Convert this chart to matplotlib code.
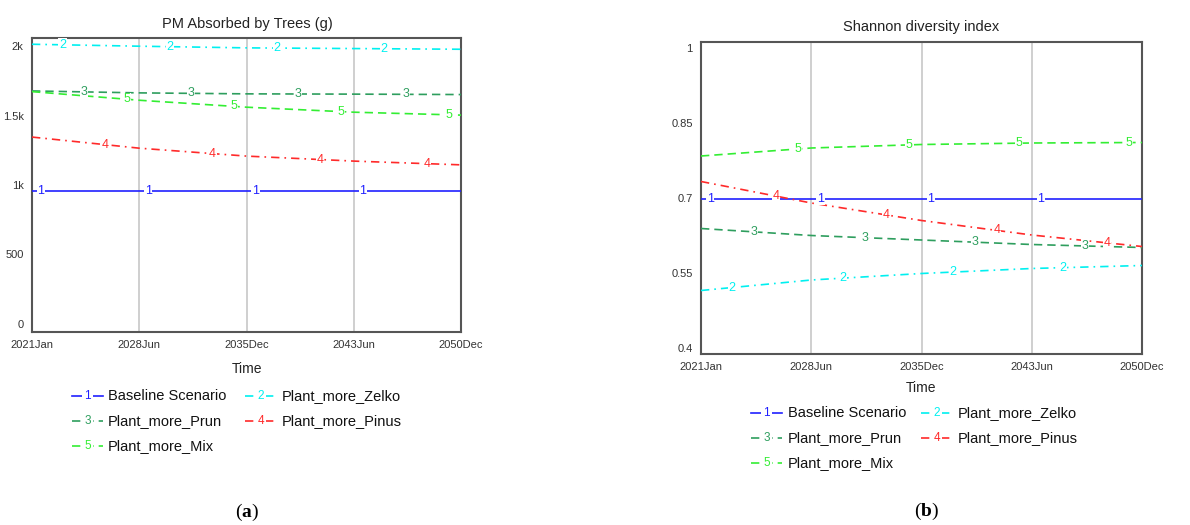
import numpy as np
import matplotlib
matplotlib.use("Agg")
import matplotlib.pyplot as plt
from matplotlib.lines import Line2D

plt.rcParams['font.family'] = ['Liberation Sans', 'DejaVu Sans']
plt.rcParams['mathtext.fontset'] = 'custom'
plt.rcParams['mathtext.bf'] = 'Liberation Serif:bold'
plt.rcParams['mathtext.rm'] = 'Liberation Serif'

# time axis in months from 2021Jan
months = [0, 90, 180, 270, 360]
tick_labels = ["2021Jan", "2028Jun", "2035Dec", "2043Jun", "2050Dec"]

names = ["Baseline Scenario", "Plant_more_Zelko", "Plant_more_Prun",
         "Plant_more_Pinus", "Plant_more_Mix"]
colors = ["#2020ff", "#00f0f0", "#2e9e5e", "#ff2a2a", "#33ee33"]
styles = ["-", (0, (5, 3, 1, 3)), (0, (5, 3)), (0, (5, 3, 1, 3)), (0, (5, 3))]

# (a) PM absorbed by trees (g)
pm_base = [956, 956, 956, 956, 956]
pm_zelko = [2013, 1999, 1987, 1982, 1977]
pm_prun = [1677, 1663, 1656, 1654, 1651]
pm_pinus = [1345, 1265, 1208, 1172, 1145]
pm_mix = [1672, 1610, 1560, 1524, 1503]

# (b) Shannon diversity index
sh_base = [0.699, 0.699, 0.699, 0.699, 0.699]
sh_zelko = [0.515, 0.536, 0.549, 0.559, 0.565]
sh_prun = [0.639, 0.625, 0.616, 0.607, 0.601]
sh_pinus = [0.733, 0.690, 0.655, 0.626, 0.603]
sh_mix = [0.784, 0.800, 0.807, 0.810, 0.811]

W, H = 1190, 525
fig = plt.figure(figsize=(W / 100, H / 100), dpi=100)


def px(x, y):
    return x / W, 1 - y / H


def panel(l, t, r, b, series, ylim, yticks, ylabels, title, title_xy, time_y,
          leg, cap, cap_xy):
    ax = fig.add_axes([l / W, 1 - b / H, (r - l) / W, (b - t) / H])
    for i, ys in enumerate(series):
        ax.plot(months, ys, color=colors[i], ls=styles[i], lw=1.2, zorder=3)
        # numbered markers along each line
        for j in range(4):
            xm = 7.5 + 18 * i + 90 * j
            ax.text(xm, np.interp(xm, months, ys), str(i + 1), color=colors[i],
                    fontsize=9, ha='center', va='center', zorder=4,
                    bbox=dict(boxstyle='square,pad=0.05', fc='white', ec='none'))
    ax.set_xlim(0, 360)
    ax.set_ylim(*ylim)
    ax.set_xticks(months)
    ax.set_xticklabels(tick_labels, fontsize=8, color='#333333')
    ax.set_yticks(yticks)
    ax.set_yticklabels(ylabels, fontsize=8, color='#333333')
    ax.tick_params(length=0, pad=6)
    ax.grid(axis='x', color='#cccccc', lw=1.3)
    for s in ax.spines.values():
        s.set_color('#555555')
        s.set_linewidth(1.5)
    cx = (l + r) / 2
    fig.text(*px(*title_xy), title, fontsize=10.5, ha='center', va='center',
             color='#222222')
    fig.text(*px(cx, time_y), "Time", fontsize=10, ha='center', va='center',
             color='#222222')
    # legend drawn like the Vensim style "-1-"
    c1, t1, c2, t2, rows = leg
    slots = [(c1, t1, rows[0]), (c2, t2, rows[0]), (c1, t1, rows[1]),
             (c2, t2, rows[1]), (c1, t1, rows[2])]
    for i, (hx, tx, ry) in enumerate(slots):
        x0, y0 = px(hx, ry)
        x1, _ = px(hx + 31, ry)
        fig.add_artist(Line2D([x0, x1], [y0, y0], color=colors[i],
                              ls=styles[i], lw=1.2, transform=fig.transFigure))
        fig.text(*px(hx + 15.5, ry), str(i + 1), color=colors[i], fontsize=8.5,
                 ha='center', va='center',
                 bbox=dict(boxstyle='square,pad=0.15', fc='white', ec='none'))
        fig.text(*px(tx, ry), names[i], fontsize=10.5, ha='left', va='center',
                 color='#111111')
    fig.text(*px(*cap_xy), "($\\mathbf{%s}$)" % cap, fontsize=14,
             ha='center', va='center',
             family=['Liberation Serif', 'DejaVu Serif'])
    return ax


panel(32, 38, 461, 332,
      [pm_base, pm_zelko, pm_prun, pm_pinus, pm_mix],
      (-58, 2058), [0, 500, 1000, 1500, 2000], ["0", "500", "1k", "1.5k", "2k"],
      "PM Absorbed by Trees (g)", (247, 24), 369,
      (72, 108, 245, 282, (396, 421, 446)), "a", (247, 512))

panel(701, 42, 1142, 354,
      [sh_base, sh_zelko, sh_prun, sh_pinus, sh_mix],
      (0.388, 1.012), [0.4, 0.55, 0.7, 0.85, 1.0],
      ["0.4", "0.55", "0.7", "0.85", "1"],
      "Shannon diversity index", (921, 27), 388,
      (751, 788, 921, 958, (413, 438, 463)), "b", (927, 511))

fig.savefig("out.png", dpi=100)
